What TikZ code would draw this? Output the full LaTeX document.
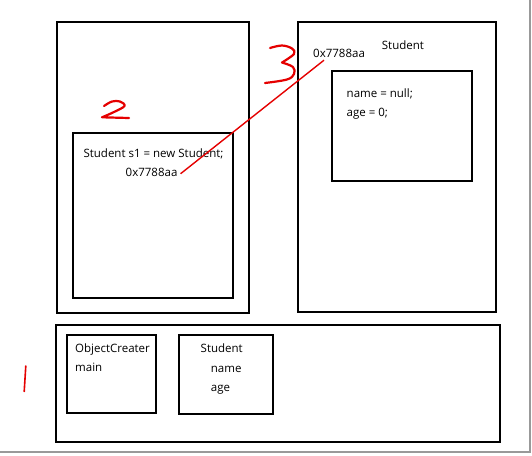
\documentclass[tikz,border=0pt]{standalone}
\usepackage{fontspec}
\setmainfont{Open Sans}
\usepackage{tikz}
\usetikzlibrary{positioning}

\begin{document}
\begin{tikzpicture}[x=1pt, y=-1pt,
    box/.style={draw, line width=2pt, inner sep=0pt, anchor=north west},
    txt/.style={inner sep=0pt, font=\fontsize{11.5}{13}\selectfont, text height=8pt, text depth=2pt},
    ink/.style={red!90!black, line width=2.2pt, line cap=round, line join=round}]
    \useasboundingbox (0,0) rectangle (532,455);
    \fill[white] (0,0) rectangle (532,455);

    % Stack
    \node[box, minimum width=192pt, minimum height=291pt] (stack) at (55.5,20.7) {};
    \node[box, minimum width=160pt, minimum height=164.7pt] (frame) at (72,132.3) {};
    \node[txt] (decl) at (153.5,154.3) {Student s1 = new Student;};
    \node[txt, anchor=west] (ref) at (125.5,173.7) {0x7788aa};

    % Heap
    \node[box, minimum width=198pt, minimum height=290.6pt] (heap) at (296.7,20.7) {};
    \node[box, minimum width=140.2pt, minimum height=110.3pt] (obj) at (330.8,70) {};
    \node[txt, anchor=west] (objname) at (381.7,46) {Student};
    \node[txt, anchor=west] (addr) at (313,54) {0x7788aa};
    \node[txt, anchor=west] (fname) at (346.5,94.7) {name = null;};
    \node[txt, anchor=west] (fage) at (346.5,113.7) {age = 0;};

    % Method area
    \node[box, minimum width=443.5pt, minimum height=117.6pt] (method) at (55.3,323.8) {};
    \node[box, minimum width=89pt, minimum height=78.3pt] (creater) at (66,333.7) {};
    \node[txt, anchor=west] (cname) at (75,349) {ObjectCreater};
    \node[txt, anchor=west] (cmain) at (75,368.3) {main};
    \node[box, minimum width=94.5pt, minimum height=79.3pt] (cls) at (177.5,333.7) {};
    \node[txt, anchor=west] (sname) at (200.5,349.3) {Student};
    \node[txt, anchor=west] (sfname) at (210.7,369) {name};
    \node[txt, anchor=west] (sfage) at (210.7,388.3) {age};

    % Reference
    \coordinate (tip) at ([xshift=11pt, yshift=-1pt]addr.south west);
    \draw[red!90!black, line width=1.4pt] ([xshift=3pt]ref.east) -- (tip);

    % Hand-written numbers
    \draw[ink] plot[smooth, tension=0.6] coordinates {(104,106) (112,101.5) (120,101.5) (124.5,106) (114,112) (102,117.3)}
        -- (129,118);
    \draw[ink] plot[smooth, tension=0.6] coordinates {(270,48) (282,45.5) (292,48.5) (294,54) (282,62.5)};
    \draw[ink] plot[smooth, tension=0.6] coordinates {(282,62.5) (293,67) (294,74) (287,79.5) (265,83)};
    \draw[red!90!black, line width=1.6pt, line cap=round] (25.8,366) -- (24.2,391.5);

    % Picture frame
    \draw[gray!80, line width=2pt] (529.5,0) -- (529.5,451.5) -- (0,451.5);
\end{tikzpicture}
\end{document}
